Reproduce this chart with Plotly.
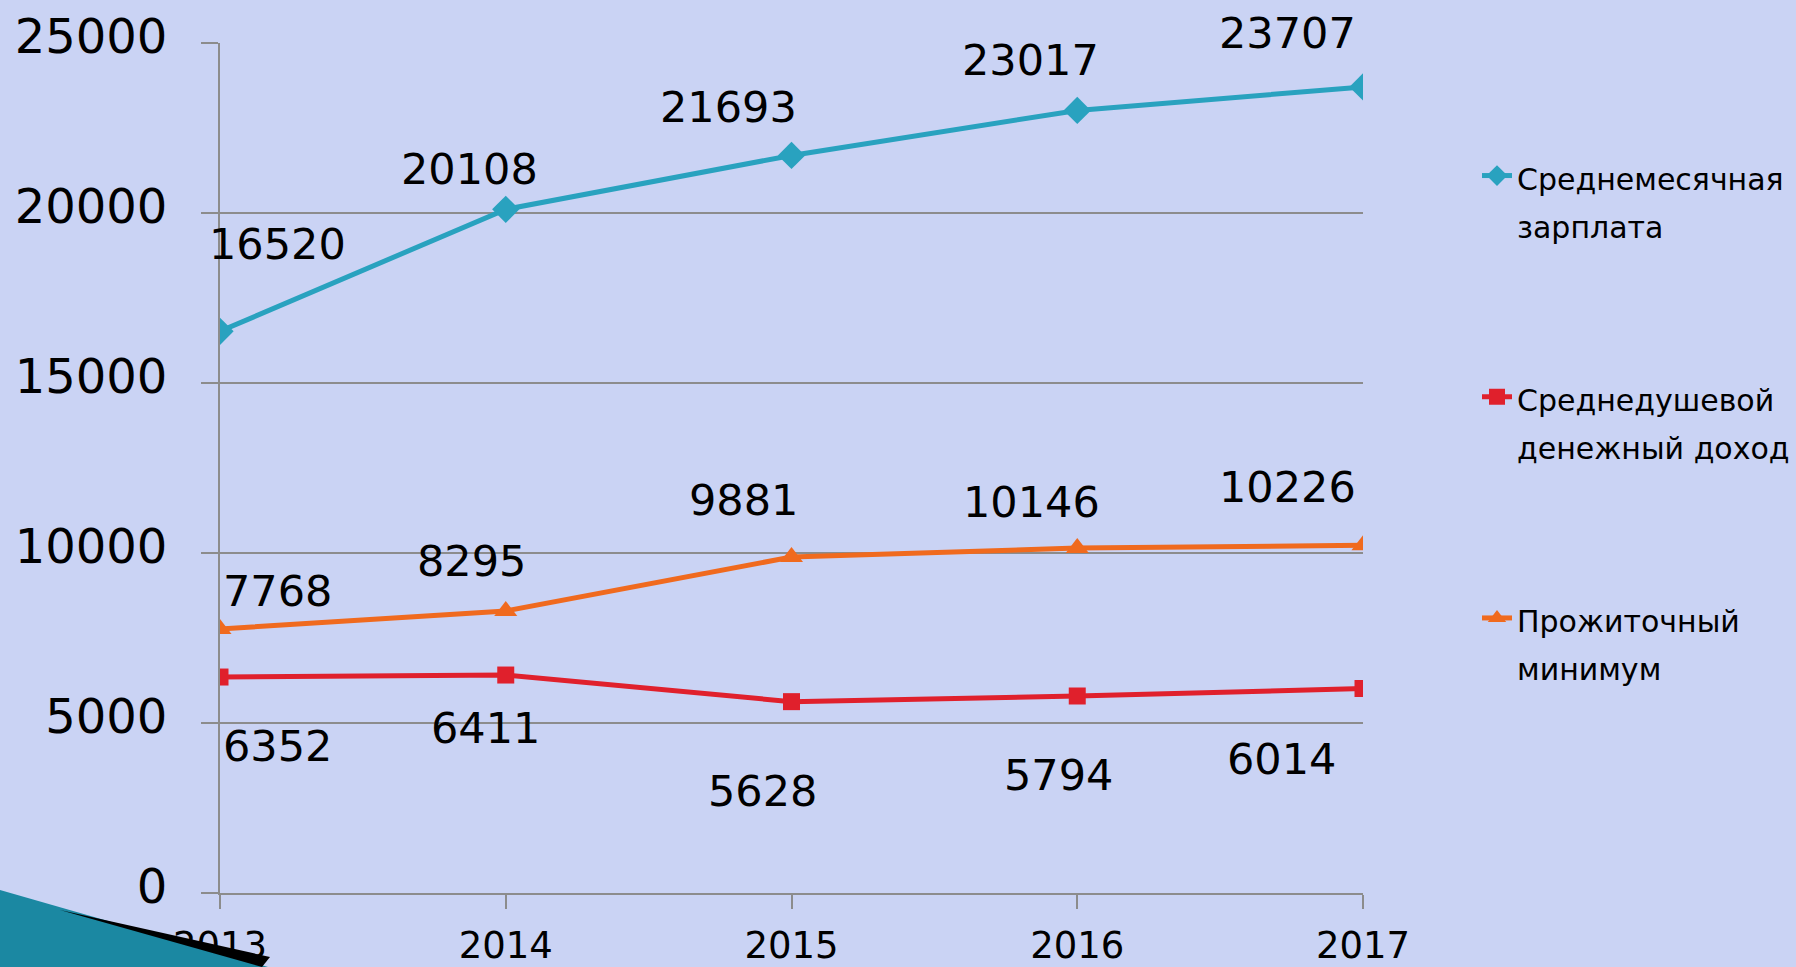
import plotly.graph_objects as go

years = [2013, 2014, 2015, 2016, 2017]
salary = [16520, 20108, 21693, 23017, 23707]
income = [6352, 6411, 5628, 5794, 6014]
minimum = [7768, 8295, 9881, 10146, 10226]
name_lines = [["Среднемесячная", "зарплата"], ["Среднедушевой", "денежный доход"], ["Прожиточный", "минимум"]]
y_ticks = [0, 5000, 10000, 15000, 20000, 25000]

# label offsets (px) — styling only
off_salary = [(57, 87), (-36, 40), (-63, 48), (-47, 50), (-76, 54)]
off_income = [(57, -69), (-20, -53), (-29, -89), (-19, -79), (-82, -70)]
off_minimum = [(57, 38), (-34, 50), (-48, 57), (-46, 46), (-76, 58)]

FONT = "DejaVu Sans"
BG = "#cad3f4"
colors = ["#29a2bf", "#e0202c", "#f06a1e"]
symbols = ["diamond", "square", "triangle-up"]
sizes = [21, 17, 20]

def legend_name(lines):
    return "<br>".join(f"<span style='font-size:30px'>{l}</span>" for l in lines)

fig = go.Figure()
for i, vals in enumerate([salary, income, minimum]):
    fig.add_trace(go.Scatter(
        x=years, y=vals, name=legend_name(name_lines[i]), mode="lines+markers",
        legendgroup=f"g{i}",
        line=dict(color=colors[i], width=5),
        marker=dict(symbol=symbols[i], size=sizes[i], color=colors[i]),
    ))

annotations = []
for vals, offs in [(salary, off_salary), (income, off_income), (minimum, off_minimum)]:
    for x, v, (dx, dy) in zip(years, vals, offs):
        annotations.append(dict(
            x=x, y=v, xref="x", yref="y", text=str(v), showarrow=False,
            xshift=dx, yshift=dy, font=dict(family=FONT, size=43, color="black"),
        ))

W, H = 1796, 967
pl, pb, pw, ph = 220, 74, 1143, 850
def px(x):
    return (x - pl) / pw
def py(y):
    return (H - pb - y) / ph

fig.update_layout(
    width=W, height=H,
    margin=dict(l=pl, r=W - pl - pw, t=H - pb - ph, b=pb, autoexpand=False),
    paper_bgcolor=BG,
    plot_bgcolor="rgba(0,0,0,0)",
    font=dict(family=FONT, color="black"),
    annotations=annotations,
    showlegend=True,
    legend=dict(
        x=px(1477), xanchor="left", y=py(145), yanchor="top",
        font=dict(family=FONT, size=37, color="black"),
        traceorder="grouped", tracegroupgap=122, valign="top",
        bgcolor="rgba(0,0,0,0)",
    ),
    shapes=[
        dict(type="path", xref="paper", yref="paper", layer="above",
             path=f"M{px(0):.5f},{py(890):.5f} L{px(268):.5f},{py(967):.5f} L{px(0):.5f},{py(967):.5f} Z",
             fillcolor="#1b88a2", line=dict(width=0)),
        dict(type="path", xref="paper", yref="paper", layer="above",
             path=f"M{px(60):.5f},{py(910):.5f} L{px(270):.5f},{py(957):.5f} L{px(262):.5f},{py(967):.5f} Z",
             fillcolor="black", line=dict(width=0)),
    ],
)

fig.update_xaxes(
    range=[2013, 2017], tickvals=years, ticktext=[str(y) for y in years],
    showgrid=False, showline=True, linecolor="#8c8c8c", linewidth=2,
    ticks="outside", ticklen=14, tickcolor="#8c8c8c", tickwidth=2,
    tickfont=dict(family=FONT, size=37, color="black"),
    ticklabelstandoff=5, zeroline=False, automargin=False,
)
fig.update_yaxes(
    range=[0, 25000], tickvals=y_ticks, ticktext=[str(t) for t in y_ticks],
    showgrid=True, gridcolor="#8c8c8c", gridwidth=2,
    showline=True, linecolor="#8c8c8c", linewidth=2,
    ticks="outside", ticklen=17, tickcolor="#8c8c8c", tickwidth=2,
    tickfont=dict(family=FONT, size=48, color="black"),
    ticklabelstandoff=24, ticklabelshift=-7, zeroline=False, automargin=False,
)

fig.write_html(
    "out.html",
    config={"displayModeBar": False},
    post_script=f"document.body.style.margin='0';document.body.style.overflow='hidden';document.body.style.background='{BG}';",
)
